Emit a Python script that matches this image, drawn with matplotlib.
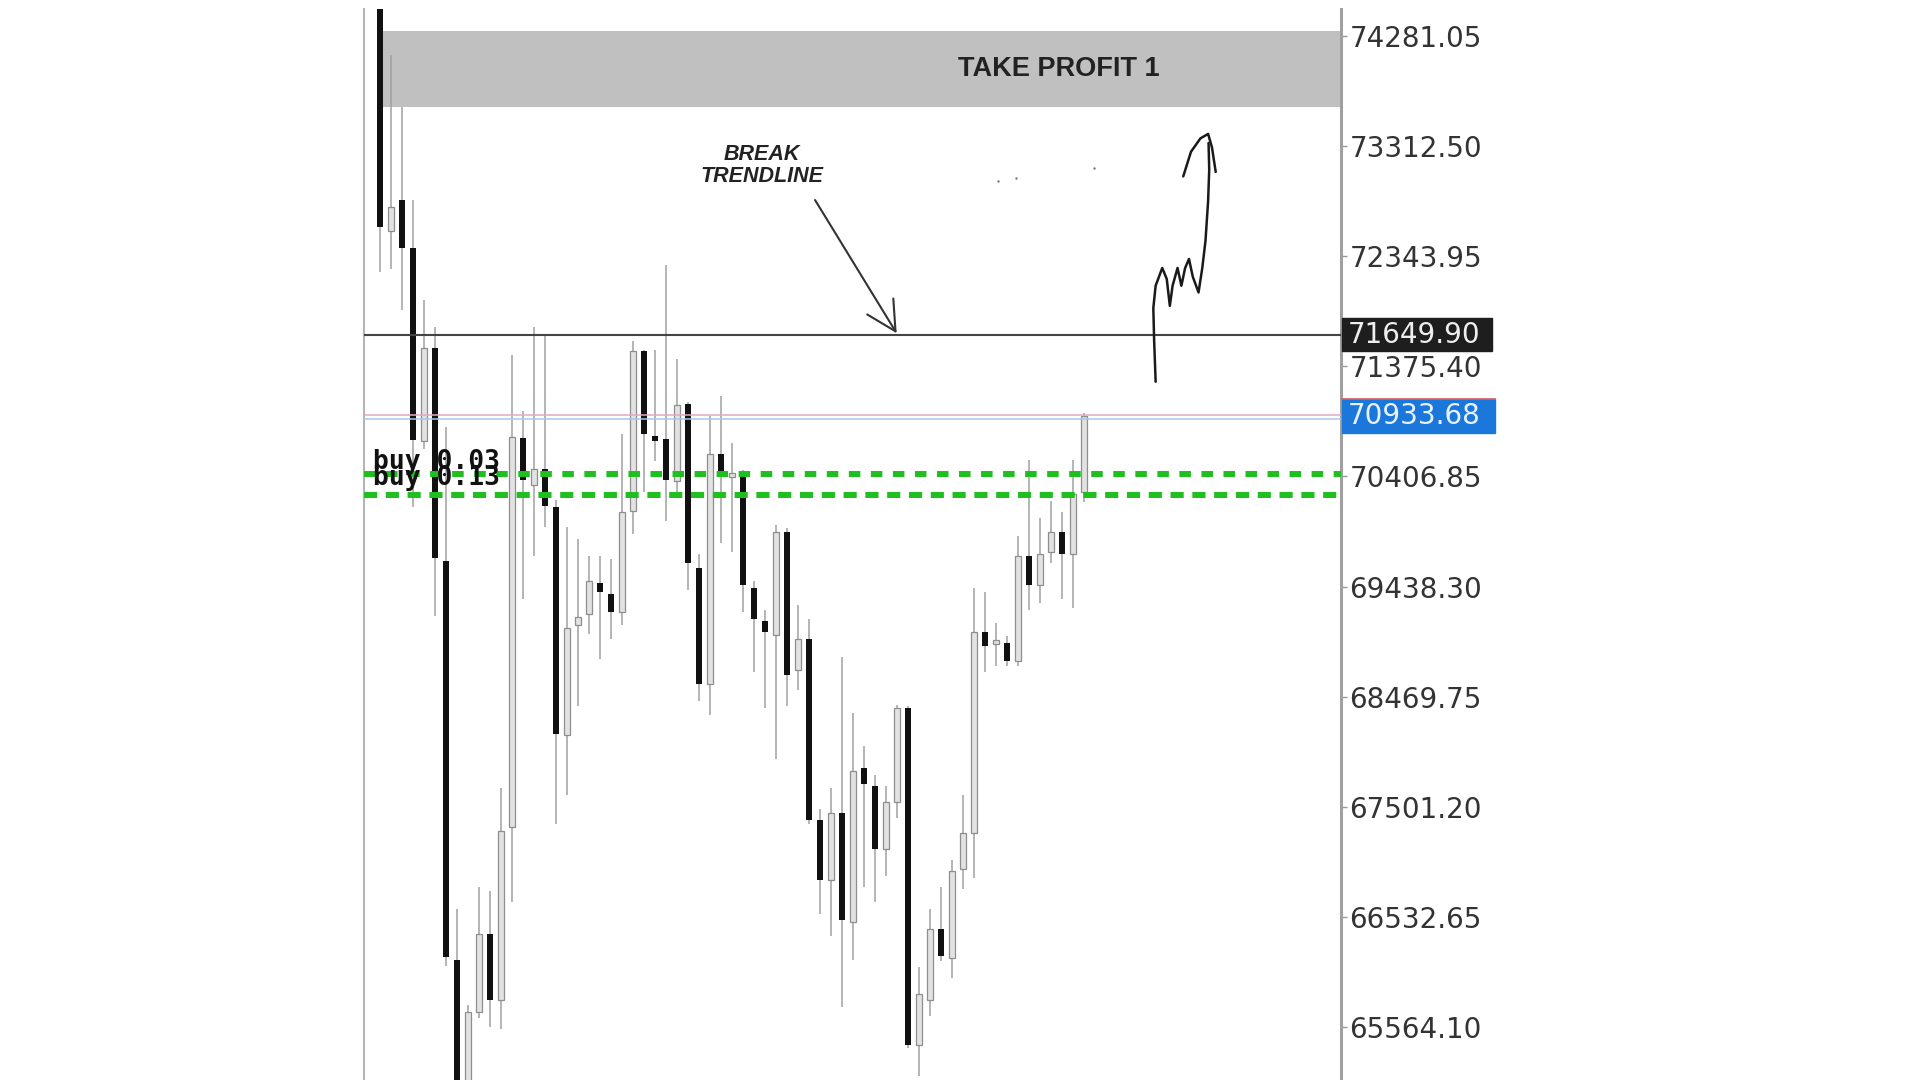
import numpy as np
import matplotlib.pyplot as plt
from matplotlib.transforms import blended_transform_factory
from matplotlib.patches import Rectangle

# candle data (one entry per bar)
opens = [74700, 72565, 72838, 72414, 70719, 71536, 69660, 66156, 64950, 65698,
         66388, 65800, 67329, 70743, 70330, 70470, 70140, 68133, 69100, 69197,
         69470, 69372, 69214, 70102, 71508, 70750, 70734, 70366, 71038, 69605,
         68585, 70600, 70400, 70449, 69429, 69135, 69016, 69919, 68704, 68977,
         67389, 66858, 67447, 66486, 67843, 67685, 67131, 67544, 68370, 65409,
         65800, 66428, 66173, 66955, 67272, 69038, 68930, 68942, 68783, 69706,
         69452, 69741, 69917, 69724, 70272]
highs = [74750, 74109, 73655, 72838, 71960, 71718, 70840, 66604, 65760, 66797,
         66762, 67663, 71476, 70981, 71718, 71650, 70200, 69961, 69860, 69710,
         69706, 69684, 70782, 71600, 71520, 71517, 72264, 71441, 71060, 69724,
         70939, 71110, 70700, 70460, 69490, 69232, 69979, 69950, 69276, 69153,
         67486, 67663, 68820, 68330, 68036, 67782, 67685, 68400, 68390, 66094,
         66604, 66800, 67034, 67606, 69429, 69390, 69117, 69000, 69882, 70550,
         70040, 70194, 70096, 70550, 70960]
lows = [72202, 72232, 71869, 70137, 70650, 69175, 66100, 64800, 64800, 65646,
        65567, 65545, 66664, 69328, 69710, 69960, 67355, 67606, 68388, 69020,
        68800, 68977, 69096, 69900, 70270, 70541, 70018, 70250, 69408, 68432,
        68309, 69820, 69742, 69214, 68685, 68370, 67918, 68388, 68529, 67350,
        66564, 66368, 65742, 66156, 66800, 66665, 66898, 67408, 65380, 65136,
        65663, 66150, 65997, 66780, 66878, 68685, 68742, 68740, 68742, 69232,
        69293, 69645, 69330, 69252, 70181]
closes = [72596, 72777, 72414, 70730, 71536, 69690, 66180, 64900, 65698, 66388,
          65800, 67289, 70749, 70374, 70470, 70150, 68140, 69073, 69170, 69487,
          69390, 69214, 70093, 71508, 70778, 70720, 70374, 71033, 69645, 68585,
          70605, 70409, 70440, 69451, 69153, 69038, 69917, 68664, 68977, 67389,
          66858, 67447, 66507, 67820, 67702, 67131, 67544, 68370, 65409, 65856,
          66428, 66190, 66938, 67272, 69038, 68919, 68955, 68783, 69706, 69452,
          69724, 69917, 69724, 70251, 70939]

tick_values = [74281.05, 73312.50, 72343.95, 71375.40, 70406.85,
               69438.30, 68469.75, 67501.20, 66532.65, 65564.10]
trend_level = 71649.90
last_price = 70933.68
buy_levels = [70427, 70245]
tp_zone = (73657, 74324)

# hand drawn arrow (bar index, price)
squiggle_x = [70.51, 70.37, 70.30, 70.51, 71.11, 71.52, 71.80, 72.05, 72.50, 72.85,
              73.19, 73.54, 73.89, 74.41, 74.75, 75.04, 75.28, 75.38, 75.32]
squiggle_y = [71238, 71611, 71886, 72082, 72238, 72141, 71905, 72082, 72238, 72082,
              72238, 72317, 72160, 72023, 72238, 72475, 72827, 73102, 73337]
head_x = [73.02, 73.72, 74.58, 75.28, 75.63, 75.97]
head_y = [73043, 73259, 73377, 73416, 73298, 73082]
specks_x = [56.2, 57.8, 64.9]
specks_y = [73002, 73033, 73118]

fig = plt.figure(figsize=(19.2, 10.8), dpi=100)
ax = fig.add_axes([364 / 1920, 0, 977 / 1920, 1071 / 1080])
ax.set_xlim(-1.4545, 87.36)
ax.set_ylim(65101, 74514)

x = np.arange(len(opens))
o = np.array(opens)
c = np.array(closes)
up = c >= o

# take profit zone
ax.axhspan(tp_zone[0], tp_zone[1], xmin=0.0194, xmax=1, color='#c0c0c0', lw=0, zorder=1)
ax.text(0.711, sum(tp_zone) / 2, 'TAKE PROFIT 1', transform=blended_transform_factory(ax.transAxes, ax.transData),
        ha='center', va='center', fontsize=19.5, fontweight='bold', family='Liberation Sans', color='#222222', zorder=6)

# candles
ax.vlines(x, lows, highs, color='#a0a0a0', lw=1.1, zorder=2)
body_h = np.where(np.abs(c - o) < 40, 40, np.abs(c - o))
body_b = np.minimum(o, c)
ax.bar(x[up], body_h[up], bottom=body_b[up], width=0.52, color='#e2e2e2', edgecolor='#8e8e8e', lw=0.9, zorder=3)
ax.bar(x[~up], body_h[~up], bottom=body_b[~up], width=0.5, color='#111111', lw=0, zorder=3)

# levels
ax.axhline(trend_level, color='#444444', lw=1.5, zorder=4)
ax.axhline(last_price + 14, color='#e3a9c3', lw=1.1, zorder=4)
ax.axhline(last_price - 22, color='#a9c6ee', lw=1.1, zorder=4)
ax.axhline(buy_levels[0], color='#1fbf1f', lw=4.3, dashes=(1.93, 1.76), zorder=5)
ax.axhline(buy_levels[1], color='#1fbf1f', lw=4.3, dashes=(2.2, 1.45), zorder=5)

# two order labels drawn on top of each other, as on the platform
ax.text(-0.64, 70530, 'buy 0.03', ha='left', va='center', fontsize=19, fontweight='bold',
        family='DejaVu Sans Mono', color='#111111', zorder=6)
ax.text(-0.64, 70390, 'buy 0.13', ha='left', va='center', fontsize=19, fontweight='bold',
        family='DejaVu Sans Mono', color='#111111', zorder=6)

# annotation
ax.text(34.7, 73138, 'BREAK\nTRENDLINE', ha='center', va='center', fontsize=15.5, fontweight='bold',
        fontstyle='italic', family='Liberation Sans', color='#222222', linespacing=1.1, zorder=6)
ax.annotate('', xy=(46.97, 71664), xytext=(39.55, 72835),
            arrowprops=dict(arrowstyle='->,head_length=2.1,head_width=1.1', mutation_scale=10,
                            color='#333333', lw=1.5, shrinkA=0, shrinkB=0), zorder=6)
ax.plot(squiggle_x, squiggle_y, color='#1a1a1a', lw=1.8, solid_capstyle='round', solid_joinstyle='round', zorder=6)
ax.plot(head_x, head_y, color='#1a1a1a', lw=1.8, solid_capstyle='round', solid_joinstyle='round', zorder=6)
ax.scatter(specks_x, specks_y, s=3, color='#777777', lw=0, zorder=6)

# axes styling
for side in ['top', 'bottom']:
    ax.spines[side].set_visible(False)
ax.spines['left'].set_color('#b5b5b5')
ax.spines['left'].set_linewidth(1.5)
ax.spines['right'].set_color('#a0a0a0')
ax.spines['right'].set_linewidth(2.2)
ax.set_xticks([])
ax.yaxis.tick_right()
ax.set_yticks(tick_values)
ax.set_yticklabels([f'{v:.2f}' for v in tick_values])
ax.tick_params(axis='y', length=4, width=1, color='#999999', pad=2, labelsize=20, labelcolor='#333333')

# price tags on the scale
tr = blended_transform_factory(ax.transAxes, ax.transData)
ax.add_patch(Rectangle((1.001, trend_level - 145), 0.1535, 290, transform=tr, color='#1e1e1e', clip_on=False, zorder=7))
ax.text(1.0065, trend_level, f'{trend_level:.2f}', transform=tr, ha='left', va='center', fontsize=20,
        color='#eeeeee', clip_on=False, zorder=8)
ax.add_patch(Rectangle((1.001, last_price - 150), 0.1565, 300, transform=tr, color='#1b78da', clip_on=False, zorder=7))
ax.plot([1.001, 1.1575], [last_price + 155, last_price + 155], transform=tr, color='#e0605a', lw=1.2,
        clip_on=False, zorder=8)
ax.text(1.0065, last_price, f'{last_price:.2f}', transform=tr, ha='left', va='center', fontsize=20,
        color='#e8f2ff', clip_on=False, zorder=8)

fig.savefig('out.png', dpi=100, facecolor='white')
